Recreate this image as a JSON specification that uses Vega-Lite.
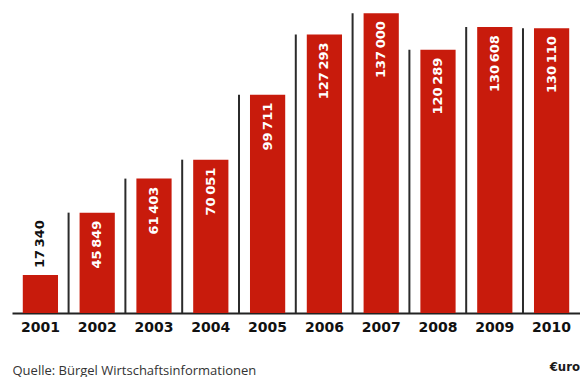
{
  "$schema": "https://vega.github.io/schema/vega-lite/v6.json",
  "width": 568,
  "height": 313,
  "padding": {"left": 12, "right": 0, "top": 0, "bottom": 0},
  "background": "white",
  "config": {
    "view": {"stroke": null},
    "locale": {"number": {"decimal": ",", "thousands": "\u2009", "grouping": [3], "currency": ["", " €"]}},
    "title": {"font": "DejaVu Sans Condensed", "fontWeight": "bold", "fontSize": 13, "color": "#1a1a1a"}
  },
  "title": {"text": "€uro", "orient": "bottom", "anchor": "end", "offset": -16},
  "data": {
    "values": [
      {"year": "2001", "value": 17340},
      {"year": "2002", "value": 45849},
      {"year": "2003", "value": 61403},
      {"year": "2004", "value": 70051},
      {"year": "2005", "value": 99711},
      {"year": "2006", "value": 127293},
      {"year": "2007", "value": 137000},
      {"year": "2008", "value": 120289},
      {"year": "2009", "value": 130608},
      {"year": "2010", "value": 130110}
    ]
  },
  "encoding": {
    "x": {
      "field": "year",
      "type": "ordinal",
      "scale": {"paddingInner": 0.38, "paddingOuter": 0.19},
      "axis": {
        "title": "Quelle: Bürgel Wirtschaftsinformationen",
        "titleAnchor": "start",
        "titleAlign": "left",
        "titleX": 0,
        "titleY": 57,
        "titleBaseline": "middle",
        "titleFont": "Open Sans",
        "titleFontWeight": "normal",
        "titleFontSize": 13,
        "titleColor": "#333333",
        "domain": true,
        "domainColor": "#222222",
        "domainWidth": 2,
        "ticks": false,
        "labelAngle": 0,
        "labelFont": "DejaVu Sans",
        "labelFontWeight": "bold",
        "labelFontSize": 14,
        "labelColor": "#111111",
        "labelPadding": 7
      }
    },
    "y": {
      "field": "value",
      "type": "quantitative",
      "scale": {"domain": [0, 143000], "nice": false},
      "axis": null
    }
  },
  "layer": [
    {
      "transform": [{"filter": "datum.year != '2001'"}],
      "mark": {"type": "rule", "stroke": "#2b2b2b", "strokeWidth": 2, "xOffset": -11},
      "encoding": {
        "x": {"field": "year", "type": "ordinal", "bandPosition": 0},
        "y2": {"datum": 0}
      }
    },
    {
      "mark": {"type": "bar", "color": "#c81b0c"}
    },
    {
      "transform": [{"filter": "datum.value >= 30000"}],
      "mark": {
        "type": "text",
        "angle": 270,
        "align": "right",
        "baseline": "middle",
        "dx": -8,
        "color": "white",
        "font": "DejaVu Sans",
        "fontWeight": "bold",
        "fontSize": 13
      },
      "encoding": {"text": {"field": "value", "type": "quantitative", "format": ",d"}}
    },
    {
      "transform": [{"filter": "datum.value < 30000"}],
      "mark": {
        "type": "text",
        "angle": 270,
        "align": "left",
        "baseline": "middle",
        "dx": 7,
        "color": "#111111",
        "font": "DejaVu Sans",
        "fontWeight": "bold",
        "fontSize": 13
      },
      "encoding": {"text": {"field": "value", "type": "quantitative", "format": ",d"}}
    }
  ]
}
